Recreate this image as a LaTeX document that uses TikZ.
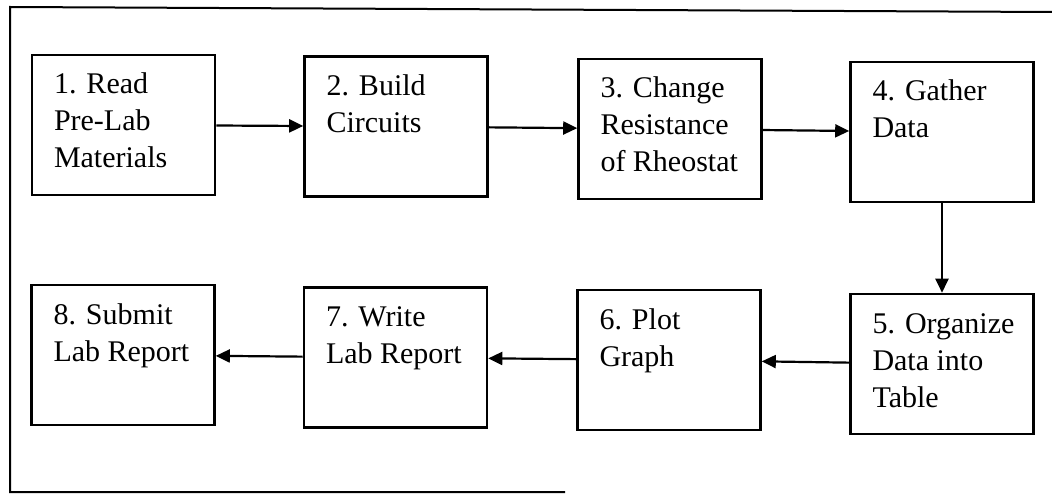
\documentclass[tikz,border=0pt]{standalone}
\usepackage{fontspec}
\setmainfont{Liberation Serif}
\usetikzlibrary{arrows.meta}
\newcommand{\stepbody}[1]{\parbox[c][140pt][t]{183pt}{\raggedright\leftskip=22pt\relax\rule{0pt}{39pt}#1}}
\tikzset{
  stepbox/.style={draw=black, line width=2.6pt, inner sep=0pt, minimum width=183pt, minimum height=140pt,
    font=\fontsize{30}{37}\selectfont},
  flowarrow/.style={draw=black, line width=2.2pt, -{Triangle[length=14pt,width=13pt]}},
  framelinestyle/.style={draw=black, line width=2pt}
}
\begin{document}
\begin{tikzpicture}[x=1pt,y=-1pt]
  \useasboundingbox (0,0) rectangle (1052,497);
  % outer frame (open on the right, as in the scan)
  \coordinate (ftr) at (1052,12);
  \coordinate (ftl) at (10,7);
  \coordinate (fbl) at (10,492);
  \coordinate (fbr) at (565,492);
  \draw[framelinestyle] (ftr) -- (ftl) -- (fbl) -- (fbr);

  % top row
  \node[stepbox] (b1) at (123.5,125) {\stepbody{1. Read\\Pre-Lab\\Materials}};
  \node[stepbox] (b2) at (396,126.5) {\stepbody{2. Build\\Circuits}};
  \node[stepbox] (b3) at (670,129) {\stepbody{3. Change\\Resistance\\of Rheostat}};
  \node[stepbox] (b4) at (942,132) {\stepbody{4. Gather\\Data}};
  % bottom row
  \node[stepbox] (b5) at (942,364) {\stepbody{5. Organize\\Data into\\Table}};
  \node[stepbox] (b6) at (669,360) {\stepbody{6. Plot\\Graph}};
  \node[stepbox] (b7) at (395.5,357.5) {\stepbody{7. Write\\Lab Report}};
  \node[stepbox] (b8) at (123,355) {\stepbody{8. Submit\\Lab Report}};

  % connectors
  \draw[flowarrow] (b1) -- (b2);
  \draw[flowarrow] (b2) -- (b3);
  \draw[flowarrow] (b3) -- (b4);
  \draw[flowarrow] (b4) -- (b5);
  \draw[flowarrow] (b5) -- (b6);
  \draw[flowarrow] (b6) -- (b7);
  \draw[flowarrow] (b7) -- (b8);
\end{tikzpicture}
\end{document}
